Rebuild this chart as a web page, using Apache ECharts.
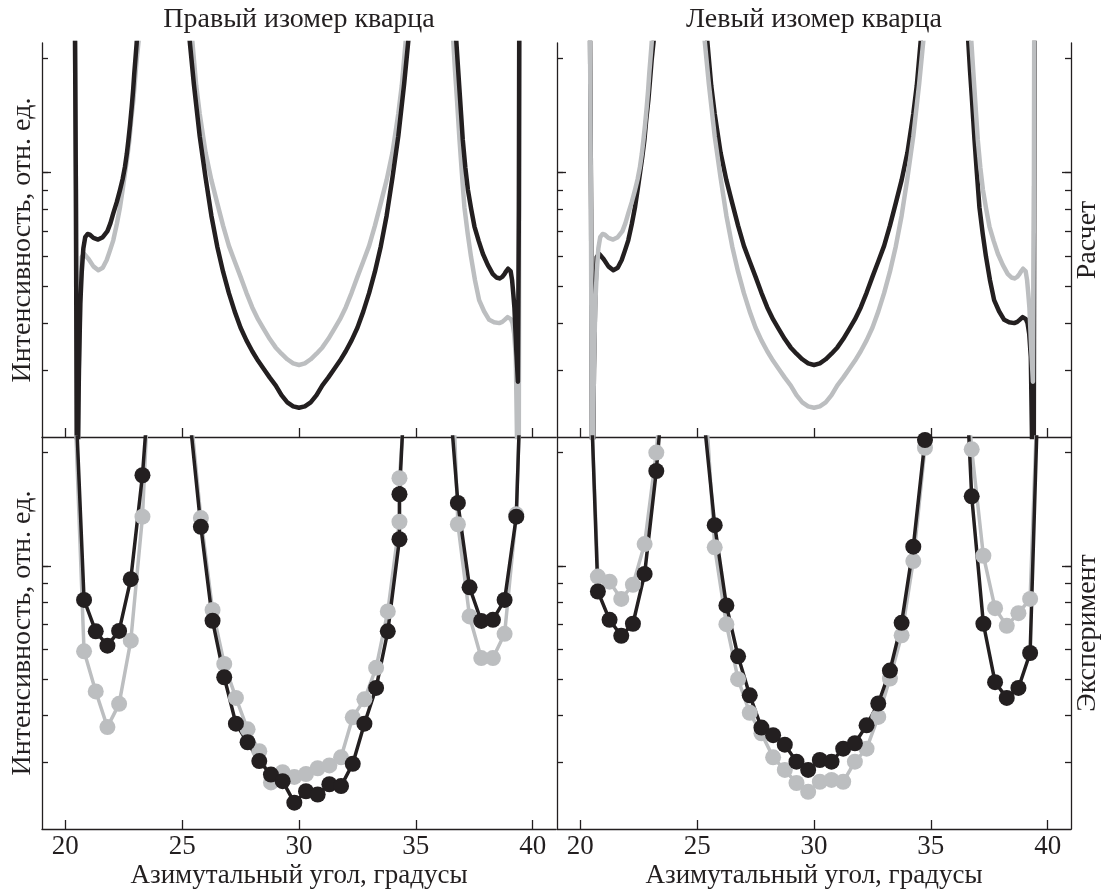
<!DOCTYPE html>
<html>
<head>
<meta charset="utf-8">
<script src="https://cdn.jsdelivr.net/npm/echarts@6/dist/echarts.min.js"></script>
<style>
  html, body { margin: 0; padding: 0; background: #fff; }
  #chart { width: 1103px; height: 889px; }
</style>
</head>
<body>
<div id="chart"></div>
<script>
// Оси
const xTicks = [20, 25, 30, 35, 40];
const yTicks = [0.3, 0.4, 0.5, 0.6, 0.7, 0.8, 0.9, 1, 2];
const yMajor = [1];

// Расчет: кривая A (чёрная у правого изомера, серая у левого)
const calcAx = [20.40, 20.45, 20.50, 20.58, 20.64, 20.70, 20.77, 20.85, 20.95, 21.05, 21.20, 21.40, 21.60, 21.80, 21.93, 22.05, 22.20, 22.34, 22.45, 22.55, 22.63, 22.70, 22.77, 22.84, 22.90, 22.95, 23.00, 23.05, 23.15, null,
  25.15, 25.30, 25.50, 25.75, 26.00, 26.25, 26.50, 26.75, 27.00, 27.25, 27.50, 27.75, 28.00, 28.25, 28.50, 28.75, 29.00, 29.25, 29.50, 29.75, 30.00,
  30.25, 30.50, 30.75, 31.00, 31.25, 31.50, 31.75, 32.00, 32.25, 32.50, 32.75, 33.00, 33.25, 33.50, 33.75, 34.00, 34.25, 34.50, 34.70, 34.85, null,
  36.62, 36.73, 36.80, 36.87, 36.94, 37.01, 37.12, 37.23, 37.37, 37.51, 37.69, 37.87, 38.08, 38.29, 38.45, 38.58, 38.70, 38.80, 38.88, 38.95, 39.01, 39.06, 39.12, 39.17, 39.22, 39.30, 39.37, 39.41, 39.43];
const calcAy = [3.2, 0.9, 0.12, 0.3, 0.45, 0.545, 0.63, 0.675, 0.688, 0.685, 0.672, 0.665, 0.675, 0.70, 0.735, 0.78, 0.835, 0.90, 0.96, 1.035, 1.12, 1.22, 1.34, 1.49, 1.65, 1.83, 2.0, 2.19, 2.8, null,
  3.0, 2.30, 1.714, 1.247, 0.970, 0.769, 0.638, 0.547, 0.480, 0.429, 0.389, 0.360, 0.337, 0.318, 0.302, 0.287, 0.274, 0.258, 0.247, 0.241, 0.239,
  0.241, 0.247, 0.258, 0.274, 0.287, 0.302, 0.318, 0.337, 0.360, 0.389, 0.429, 0.480, 0.547, 0.638, 0.769, 0.970, 1.247, 1.714, 2.30, 3.0, null,
  3.2, 2.24, 1.92, 1.65, 1.42, 1.22, 1.03, 0.9, 0.8, 0.72, 0.66, 0.61, 0.57, 0.54, 0.528, 0.525, 0.53, 0.54, 0.55, 0.557, 0.556, 0.548, 0.52, 0.48, 0.44, 0.34, 0.28, 0.8, 3.2];

// Расчет: кривая B (серая у правого изомера, чёрная у левого)
const calcBx = [20.40, 20.46, 20.51, 20.58, 20.64, 20.70, 20.80, 20.88, 21.00, 21.20, 21.41, 21.60, 21.77, 21.90, 22.05, 22.20, 22.34, 22.45, 22.55, 22.65, 22.74, 22.82, 22.91, 22.98, 23.05, 23.14, 23.25, null,
  25.30, 25.44, 25.60, 25.75, 26.00, 26.25, 26.50, 26.75, 27.00, 27.25, 27.50, 27.75, 28.00, 28.25, 28.50, 28.75, 29.00, 29.25, 29.50, 29.75, 30.00,
  30.25, 30.50, 30.75, 31.00, 31.25, 31.50, 31.75, 32.00, 32.25, 32.50, 32.75, 33.00, 33.25, 33.50, 33.75, 34.00, 34.25, 34.40, 34.56, 34.70, null,
  36.50, 36.60, 36.68, 36.75, 36.87, 36.97, 37.08, 37.22, 37.36, 37.53, 37.71, 37.92, 38.14, 38.35, 38.57, 38.70, 38.80, 38.93, 39.00, 39.07, 39.14, 39.21, 39.28, 39.36, 39.40, 39.44];
const calcBy = [3.2, 0.8, 0.1, 0.3, 0.48, 0.598, 0.61, 0.608, 0.59, 0.565, 0.552, 0.56, 0.587, 0.62, 0.662, 0.73, 0.811, 0.90, 0.994, 1.10, 1.217, 1.38, 1.552, 1.75, 1.98, 2.24, 3.0, null,
  2.80, 2.20, 1.70, 1.43, 1.13, 0.955, 0.830, 0.724, 0.640, 0.582, 0.530, 0.481, 0.440, 0.409, 0.385, 0.363, 0.345, 0.332, 0.321, 0.313, 0.310,
  0.313, 0.321, 0.332, 0.345, 0.363, 0.385, 0.409, 0.440, 0.481, 0.530, 0.582, 0.640, 0.724, 0.830, 0.955, 1.13, 1.43, 1.70, 2.20, 2.80, null,
  3.2, 2.24, 1.85, 1.6, 1.22, 1.0, 0.81, 0.69, 0.60, 0.52, 0.46, 0.43, 0.408, 0.402, 0.40, 0.403, 0.408, 0.415, 0.414, 0.41, 0.40, 0.375, 0.326, 0.15, 0.1, 3.2];

// Эксперимент, правый изомер
const expRX = [20.3, 20.8, 21.3, 21.8, 22.3, 22.8, 23.3, 23.8, null,
  25.3, 25.8, 26.3, 26.8, 27.3, 27.8, 28.3, 28.8, 29.3, 29.8, 30.3, 30.8, 31.3, 31.8, 32.3, 32.8, 33.3, 33.8, 34.3, 34.3, 34.8, null,
  36.3, 36.8, 37.3, 37.8, 38.3, 38.8, 39.3, 39.8];
const expRBlack = [4.5, 0.812, 0.670, 0.614, 0.672, 0.922, 1.741, 4.6, null,
  2.56, 1.27, 0.715, 0.506, 0.381, 0.340, 0.303, 0.279, 0.268, 0.235, 0.252, 0.247, 0.263, 0.260, 0.298, 0.381, 0.474, 0.670, 1.177, 1.55, 6.7, null,
  3.66, 1.47, 0.877, 0.714, 0.719, 0.812, 1.351, 12];
const expRGray = [4.0, 0.593, 0.464, 0.373, 0.430, 0.633, 1.351, 6.2, null,
  2.78, 1.34, 0.764, 0.549, 0.446, 0.368, 0.322, 0.266, 0.283, 0.275, 0.28, 0.29, 0.295, 0.31, 0.396, 0.442, 0.536, 0.757, 1.31, 1.71, 4.9, null,
  10, 1.29, 0.734, 0.569, 0.569, 0.660, 1.371, 12];

// Эксперимент, левый изомер
const expLX = [20.25, 20.75, 21.25, 21.75, 22.25, 22.75, 23.25, 23.75, null,
  25.25, 25.75, 26.25, 26.75, 27.25, 27.75, 28.25, 28.75, 29.25, 29.75, 30.25, 30.75, 31.25, 31.75, 32.25, 32.75, 33.25, 33.75, 34.25, 34.75, 35.25, null,
  36.25, 36.75, 37.25, 37.75, 38.25, 38.75, 39.25, 39.75];
const expLBlack = [6.6, 0.855, 0.719, 0.652, 0.702, 0.952, 1.787, 4.2, null,
  2.6, 1.283, 0.785, 0.575, 0.453, 0.372, 0.355, 0.335, 0.302, 0.287, 0.305, 0.302, 0.327, 0.338, 0.377, 0.431, 0.527, 0.706, 1.125, 2.16, 6, null,
  6.8, 1.53, 0.702, 0.491, 0.446, 0.474, 0.587, 6.2];
const expLGray = [6, 0.937, 0.908, 0.817, 0.891, 1.143, 2.0, 5, null,
  3.5, 1.12, 0.70, 0.50, 0.407, 0.359, 0.31, 0.287, 0.265, 0.251, 0.267, 0.27, 0.267, 0.302, 0.327, 0.397, 0.502, 0.654, 1.03, 2.06, 5, null,
  5, 2.04, 1.064, 0.772, 0.693, 0.749, 0.817, 6];

const INK = "#231f20";
const GRAY = "#bcbec0";
const FONT = "Liberation Serif";
const FS = 28;
const FSX = 27;

function zip(xs, ys) {
  return xs.map((x, i) => [x, ys[i]]);
}

const chart = echarts.init(document.getElementById("chart"));

const grids = [
  { left: 42, top: 43, width: 514, height: 394 },
  { left: 557, top: 43, width: 514, height: 394 },
  { left: 42, top: 437, width: 514, height: 392 },
  { left: 557, top: 437, width: 514, height: 392 },
].map((g) => Object.assign({ outerBoundsMode: "none", containLabel: false }, g));

const nameStyle = { fontFamily: FONT, fontSize: FS, color: INK };

// x: нижняя ось каждой панели, подписи только снизу
const xAxes = [0, 1, 2, 3].map((g) => ({
  type: "value",
  gridIndex: g,
  min: 19,
  max: 41,
  position: "bottom",
  axisLine: { show: true, lineStyle: { color: INK, width: 1.3 } },
  axisTick: { show: true, inside: true, length: 9, customValues: xTicks, lineStyle: { color: INK, width: 1.3 } },
  axisLabel: { show: g >= 2, customValues: xTicks, fontFamily: FONT, fontSize: FSX, color: INK, margin: 4 },
  splitLine: { show: false },
  name: g >= 2 ? "Азимутальный угол, градусы" : "",
  nameLocation: "middle",
  nameGap: 33,
  nameTextStyle: { fontFamily: FONT, fontSize: FSX, color: INK },
}));

// y: логарифмическая шкала, подписей нет
const yAxes = [];
function addY(g, pos, ticks, len, showLine, name, gap) {
  yAxes.push({
    type: "log",
    gridIndex: g,
    position: pos,
    min: 0.2,
    max: 2.2,
    axisLine: { show: showLine, lineStyle: { color: INK, width: 1.3 } },
    axisTick: { show: true, inside: true, length: len, customValues: ticks, lineStyle: { color: INK, width: 1.3 } },
    axisLabel: { show: false },
    splitLine: { show: false },
    minorTick: { show: false },
    name: name || "",
    nameLocation: "middle",
    nameRotate: 90,
    nameGap: gap || 10,
    nameTextStyle: nameStyle,
  });
  return yAxes.length - 1;
}

const yMain = [];
[0, 1, 2, 3].forEach((g) => {
  const left = g === 0 || g === 2 ? "Интенсивность, отн. ед." : "";
  yMain.push(addY(g, "left", yTicks, 6, true, left, 5));
  addY(g, "left", yMajor, 9, false);
  if (g === 1 || g === 3) {
    addY(g, "right", yTicks, 6, true, g === 1 ? "Расчет" : "Эксперимент", 3);
    addY(g, "right", yMajor, 9, false);
  }
});

function calcLine(g, xs, ys, color) {
  return {
    type: "line",
    xAxisIndex: g,
    yAxisIndex: yMain[g],
    data: zip(xs, ys),
    showSymbol: false,
    symbol: "none",
    lineStyle: { color: color, width: 4.5, join: "round" },
    clip: true,
    silent: true,
  };
}

function expLine(g, xs, ys, color) {
  return {
    type: "line",
    xAxisIndex: g,
    yAxisIndex: yMain[g],
    data: zip(xs, ys),
    symbol: "circle",
    symbolSize: 16,
    showAllSymbol: true,
    itemStyle: { color: color },
    lineStyle: { color: color, width: 3.5 },
    clip: true,
    silent: true,
  };
}

const titleStyle = { fontFamily: FONT, fontSize: FS, fontWeight: "normal", color: INK };

const option = {
  animation: false,
  backgroundColor: "#fff",
  title: [
    { text: "Правый изомер кварца", left: 299, top: 6, textAlign: "center", padding: 0, textStyle: titleStyle },
    { text: "Левый изомер кварца", left: 814, top: 6, textAlign: "center", padding: 0, textStyle: titleStyle },
  ],
  grid: grids,
  xAxis: xAxes,
  yAxis: yAxes,
  series: [
    calcLine(0, calcBx, calcBy, GRAY),
    calcLine(0, calcAx, calcAy, INK),
    calcLine(1, calcBx, calcBy, INK),
    calcLine(1, calcAx, calcAy, GRAY),
    expLine(2, expRX, expRGray, GRAY),
    expLine(2, expRX, expRBlack, INK),
    expLine(3, expLX, expLGray, GRAY),
    expLine(3, expLX, expLBlack, INK),
  ],
};

chart.setOption(option);
</script>
</body>
</html>
